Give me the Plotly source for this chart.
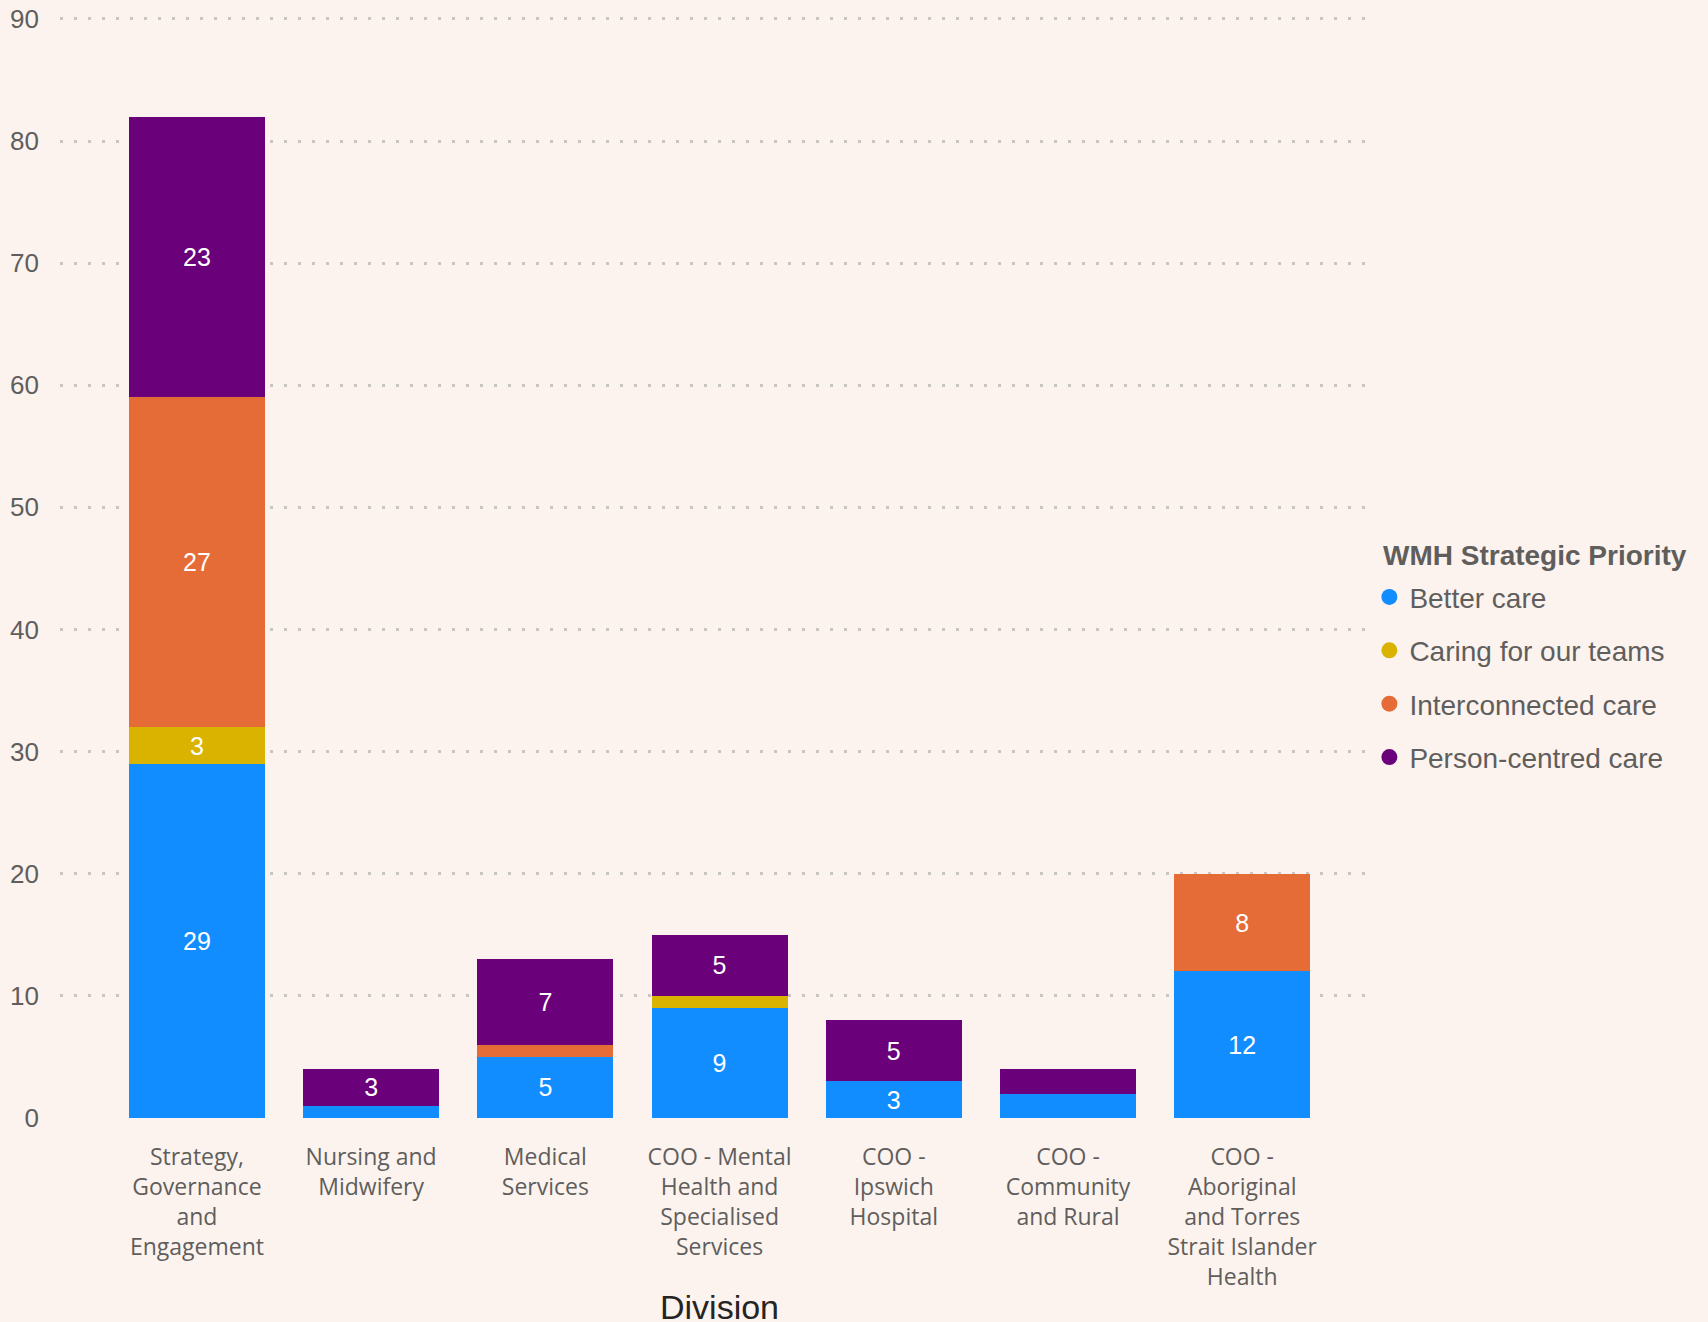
import plotly.graph_objects as go

divisions = [
    "Strategy, Governance and Engagement",
    "Nursing and Midwifery",
    "Medical Services",
    "COO - Mental Health and Specialised Services",
    "COO - Ipswich Hospital",
    "COO - Community and Rural",
    "COO - Aboriginal and Torres Strait Islander Health",
]
tick_labels = [
    "Strategy,<br>Governance<br>and<br>Engagement",
    "Nursing and<br>Midwifery",
    "Medical<br>Services",
    "COO - Mental<br>Health and<br>Specialised<br>Services",
    "COO -<br>Ipswich<br>Hospital",
    "COO -<br>Community<br>and Rural",
    "COO -<br>Aboriginal<br>and Torres<br>Strait Islander<br>Health",
]
better_care = [29, 1, 5, 9, 3, 2, 12]
caring_for_teams = [3, 0, 0, 1, 0, 0, 0]
interconnected_care = [27, 0, 1, 0, 0, 0, 8]
person_centred_care = [23, 3, 7, 5, 5, 2, 0]

series = [
    ("Better care", better_care, "#118DFF"),
    ("Caring for our teams", caring_for_teams, "#D9B300"),
    ("Interconnected care", interconnected_care, "#E66C37"),
    ("Person-centred care", person_centred_care, "#6B007B"),
]

FONT = "Liberation Sans, Arial, sans-serif"
XFONT = "Open Sans, Liberation Sans, sans-serif"
fig = go.Figure()
for name, vals, color in series:
    fig.add_trace(go.Bar(
        x=divisions, y=vals, name=name, marker=dict(color=color, line=dict(width=0)),
        text=[str(v) if v >= 3 else "" for v in vals],
        textposition="inside", insidetextanchor="middle", textangle=0,
        textfont=dict(color="white", size=25, family=FONT),
        showlegend=False, hoverinfo="x+y+name",
    ))
for name, vals, color in series:
    fig.add_trace(go.Scatter(
        x=[None], y=[None], mode="markers", name=name, legendgroup=name,
        marker=dict(color=color, size=22, symbol="circle"),
    ))

fig.update_layout(
    width=1708, height=1322,
    barmode="stack", bargap=0.22,
    paper_bgcolor="#FCF3EF", plot_bgcolor="#FCF3EF",
    margin=dict(l=60, r=336, t=14, b=204),
    font=dict(family=FONT, color="#605E5C"),
    legend=dict(
        font=dict(size=28, color="#605E5C"),
        x=0.998, xanchor="left", y=0.4944, yanchor="top",
        tracegroupgap=14, itemsizing="trace", itemwidth=30,
        bgcolor="rgba(0,0,0,0)",
    ),
    xaxis=dict(
        tickmode="array", tickvals=divisions, ticktext=tick_labels,
        tickfont=dict(size=23, color="#605E5C", family=XFONT),
        range=[-0.786, 6.745], showgrid=False, zeroline=False, showline=False,
        ticks="", ticklabelstandoff=23, automargin=False,
    ),
    yaxis=dict(
        range=[0, 90.4], tickvals=[0, 10, 20, 30, 40, 50, 60, 70, 80, 90],
        tickfont=dict(size=26, color="#605E5C"),
        showgrid=True, gridcolor="#C8C6C4", griddash="3px,11px", gridwidth=2.5,
        zeroline=False, showline=False, ticks="", ticklabelstandoff=20,
        automargin=False,
    ),
    annotations=[
        dict(
            text="Division", xref="paper", yref="paper", x=0.5027, y=-0.171,
            xanchor="center", yanchor="middle", showarrow=False,
            font=dict(size=34, color="#252423", family=FONT),
        ),
        dict(
            text="<b>WMH Strategic Priority</b>", xref="paper", yref="paper",
            x=1.0065, y=0.5095, xanchor="left", yanchor="middle", showarrow=False,
            font=dict(size=28, color="#605E5C", family=FONT),
        ),
    ],
    uniformtext=dict(minsize=20, mode="show"),
)

fig.write_html(
    "out.html",
    config={"displayModeBar": False},
    post_script="document.body.style.margin='0';document.body.style.background='#FCF3EF';",
)
